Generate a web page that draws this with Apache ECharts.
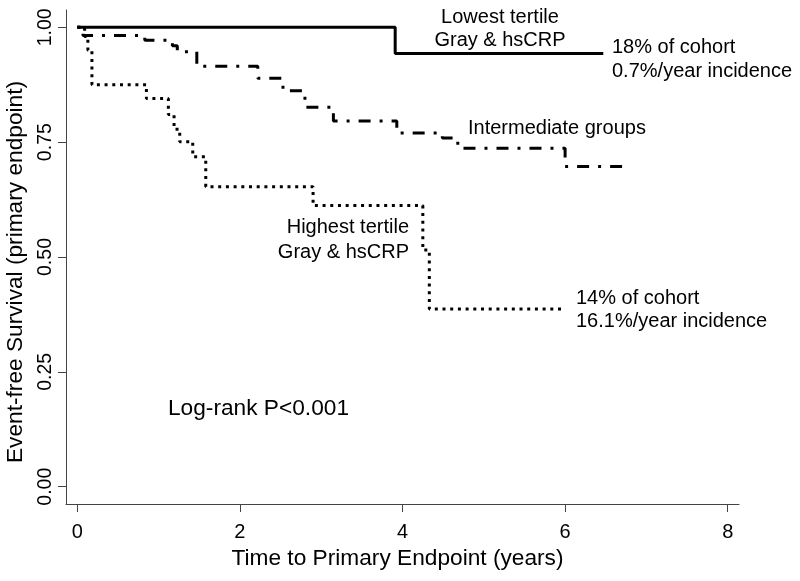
<!DOCTYPE html>
<html>
<head>
<meta charset="utf-8">
<script src="https://cdn.jsdelivr.net/npm/echarts@6/dist/echarts.min.js"></script>
<style>html,body{margin:0;padding:0;background:#fff}#c{width:800px;height:581px}</style>
</head>
<body>
<div id="c"></div>
<script>
// ---- data ----
const xTicks = [0, 2, 4, 6, 8];
const yTicks = [0, 0.25, 0.5, 0.75, 1];

const lowTime = [0, 3.91, 6.47];
const lowSurv = [1.0, 0.943, 0.943];

const interTime = [0, 0.07, 0.83, 1.17, 1.23, 1.47, 2.22, 2.53, 2.8, 3.15, 3.93, 4.49, 4.68, 6.0, 6.8];
const interSurv = [1.0, 0.982, 0.972, 0.96, 0.947, 0.915, 0.889, 0.862, 0.826, 0.796, 0.770, 0.759, 0.737, 0.697, 0.697];

const highTime = [0, 0.09, 0.13, 0.18, 0.85, 1.12, 1.19, 1.26, 1.42, 1.58, 2.9, 4.25, 4.33, 6.0];
const highSurv = [1.0, 0.98, 0.95, 0.875, 0.845, 0.81, 0.778, 0.751, 0.718, 0.653, 0.612, 0.515, 0.387, 0.387];

const xTitle = 'Time to Primary Endpoint (years)';
const yTitle = 'Event-free Survival (primary endpoint)';

const notes = [
  {text: 'Lowest tertile', x: 500, y: 17, align: 'center', size: 20},
  {text: 'Gray & hsCRP', x: 500, y: 40, align: 'center', size: 20},
  {text: '18% of cohort', x: 612, y: 47, align: 'left', size: 20},
  {text: '0.7%/year incidence', x: 612, y: 71, align: 'left', size: 20},
  {text: 'Intermediate groups', x: 468, y: 128, align: 'left', size: 20},
  {text: 'Highest tertile', x: 409, y: 227, align: 'right', size: 20},
  {text: 'Gray & hsCRP', x: 409, y: 252, align: 'right', size: 20},
  {text: '14% of cohort', x: 576, y: 298, align: 'left', size: 20},
  {text: '16.1%/year incidence', x: 576, y: 321, align: 'left', size: 20},
  {text: 'Log-rank P<0.001', x: 168, y: 409, align: 'left', size: 22.7}
];

// ---- chart ----
const font = '"Liberation Sans", Arial, sans-serif';
const zip = (a, b) => a.map((v, i) => [v, b[i]]);
const axisCol = '#444';

const chart = echarts.init(document.getElementById('c'), null, {renderer: 'canvas'});
chart.setOption({
  animation: false,
  backgroundColor: '#fff',
  grid: {left: 66, right: 61, top: 10, bottom: 77, containLabel: false, outerBoundsMode: 'none'},
  xAxis: {
    type: 'value', min: -0.139, max: 8.139,
    axisLine: {show: true, onZero: false, lineStyle: {color: axisCol, width: 1}},
    axisTick: {show: true, length: 8, inside: false, customValues: xTicks, lineStyle: {color: axisCol}},
    axisLabel: {customValues: xTicks, margin: 18, fontFamily: font, fontSize: 20, color: '#000'},
    splitLine: {show: false}
  },
  yAxis: {
    type: 'value', min: -0.0377, max: 1.0377,
    axisLine: {show: true, onZero: false, lineStyle: {color: axisCol, width: 1}},
    axisTick: {show: true, length: 8, inside: false, customValues: yTicks, lineStyle: {color: axisCol}},
    axisLabel: {customValues: yTicks, rotate: 90, margin: 10, fontFamily: font, fontSize: 19.5, color: '#000',
      formatter: v => v.toFixed(2)},
    splitLine: {show: false}
  },
  series: [
    {type: 'line', name: 'Lowest', step: 'end', showSymbol: false, symbol: 'none',
     data: zip(lowTime, lowSurv), lineStyle: {color: '#000', width: 3, type: 'solid'}},
    {type: 'line', name: 'Intermediate', step: 'end', showSymbol: false, symbol: 'none',
     data: zip(interTime, interSurv), lineStyle: {color: '#000', width: 3, type: [3, 9, 12, 9], cap: 'butt'}},
    {type: 'line', name: 'Highest', step: 'end', showSymbol: false, symbol: 'none',
     data: zip(highTime, highSurv), lineStyle: {color: '#000', width: 3, type: [3, 4.7], cap: 'butt'}}
  ],
  graphic: [
    {type: 'text', x: 16, y: 272, rotation: Math.PI / 2,
     style: {text: yTitle, fontFamily: font, fontSize: 22.7, fill: '#000', align: 'center', verticalAlign: 'middle'}},
    {type: 'text', x: 397.5, y: 559,
     style: {text: xTitle, fontFamily: font, fontSize: 22.7, fill: '#000', align: 'center', verticalAlign: 'middle'}}
  ].concat(notes.map(n => ({
    type: 'text', x: n.x, y: n.y,
    style: {text: n.text, fontFamily: font, fontSize: n.size, fill: '#000', align: n.align, verticalAlign: 'middle'}
  })))
});
</script>
</body>
</html>
